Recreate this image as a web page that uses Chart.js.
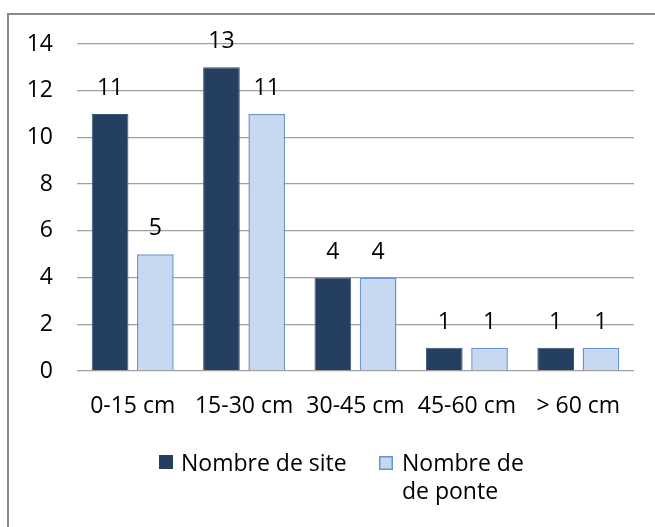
<!DOCTYPE html>
<html>
<head>
<meta charset="utf-8">
<script src="https://cdn.jsdelivr.net/npm/chart.js@4.4.1/dist/chart.umd.min.js"></script>
<style>
  html, body { margin: 0; padding: 0; background: #fff; overflow: hidden; }
  body { width: 655px; height: 527px; position: relative; }
  #frame {
    position: absolute; left: 7px; top: 13px;
    width: 720px; height: 600px;
    border: 2px solid #8a8a8a;
  }
  #wrap { position: absolute; left: 0; top: 0; width: 655px; height: 527px; }
</style>
</head>
<body>
<div id="frame"></div>
<div id="wrap"><canvas id="depthChart" width="655" height="527"></canvas></div>
<script>
const categories = ["0-15 cm", "15-30 cm", "30-45 cm", "45-60 cm", "> 60 cm"];
const sites = [11, 13, 4, 1, 1];
const pontes = [5, 11, 4, 1, 1];
const seriesNames = ["Nombre de site", "Nombre de\nde ponte"];
const yTicks = [0, 2, 4, 6, 8, 10, 12, 14];

const FONT = "'Open Sans', sans-serif";

// value above each bar
const barValues = {
  id: "barValues",
  afterDatasetsDraw(chart) {
    const ctx = chart.ctx;
    ctx.save();
    ctx.font = "23px " + FONT;
    ctx.fillStyle = "#000";
    ctx.textAlign = "center";
    ctx.textBaseline = "alphabetic";
    chart.data.datasets.forEach((ds, i) => {
      chart.getDatasetMeta(i).data.forEach((bar, j) => {
        ctx.fillText(String(ds.data[j]), bar.x, bar.y - 19);
      });
    });
    ctx.restore();
  },
};

// legend under the axis, second name wraps on two lines
const bottomLegend = {
  id: "bottomLegend",
  afterDraw(chart) {
    const ctx = chart.ctx;
    const spots = [
      { box: [159, 455], text: 181, base: 471 },
      { box: [379, 456], text: 402, base: 471 },
    ];
    ctx.save();
    ctx.font = "23px " + FONT;
    ctx.textBaseline = "alphabetic";
    ctx.textAlign = "left";
    chart.data.datasets.forEach((ds, i) => {
      const s = spots[i];
      ctx.fillStyle = ds.backgroundColor;
      ctx.fillRect(s.box[0], s.box[1], 14, 14);
      if (i === 1) {
        ctx.strokeStyle = ds.borderColor;
        ctx.lineWidth = 1.5;
        ctx.strokeRect(s.box[0] + 0.75, s.box[1] + 0.75, 12.5, 12.5);
      }
      ctx.fillStyle = "#000";
      ds.label.split("\n").forEach((line, k) => {
        ctx.fillText(line, s.text, s.base + k * 28);
      });
    });
    ctx.restore();
  },
};

new Chart(document.getElementById("depthChart"), {
  type: "bar",
  data: {
    labels: categories,
    datasets: [
      {
        label: seriesNames[0],
        data: sites,
        backgroundColor: "#253f60",
        borderColor: "#3d5677",
        borderWidth: 1,
        categoryPercentage: 0.813,
        barPercentage: 0.81,
      },
      {
        label: seriesNames[1],
        data: pontes,
        backgroundColor: "#c6d9f1",
        borderColor: "#6a94d0",
        borderWidth: 1.5,
        categoryPercentage: 0.813,
        barPercentage: 0.81,
      },
    ],
  },
  options: {
    responsive: false,
    animation: false,
    layout: { padding: { top: 44, right: 21, left: 0, bottom: 0 } },
    plugins: {
      legend: { display: false },
      tooltip: { enabled: false },
    },
    scales: {
      x: {
        grid: { display: false, drawTicks: false },
        border: { display: false },
        ticks: {
          color: "#000",
          font: { family: FONT, size: 23 },
          padding: 22,
          maxRotation: 0,
          autoSkip: false,
        },
        afterFit(scale) {
          scale.height = 156;
        },
      },
      y: {
        min: 0,
        max: 14,
        afterBuildTicks(scale) {
          scale.ticks = yTicks.map((v) => ({ value: v }));
        },
        grid: { color: "#a0a0a0", lineWidth: 1.3, drawTicks: false },
        border: { display: false },
        ticks: {
          color: "#000",
          font: { family: FONT, size: 23 },
          padding: 24,
        },
        afterFit(scale) {
          scale.width = 77;
        },
      },
    },
  },
  plugins: [barValues, bottomLegend],
});
</script>
</body>
</html>
